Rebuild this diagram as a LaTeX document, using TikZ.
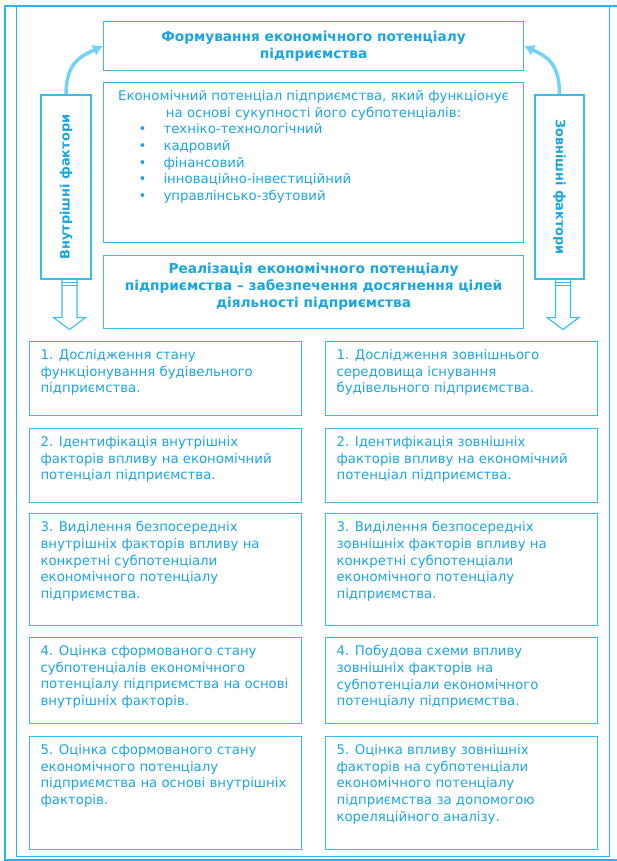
\documentclass[tikz,border=0pt]{standalone}
\usepackage{fontspec}
\setmainfont{DejaVu Sans}
\usetikzlibrary{arrows.meta}
\definecolor{txtblue}{HTML}{1BA5E0}
\definecolor{lineblue}{HTML}{36BCEE}
\definecolor{arcblue}{HTML}{74D2F6}
\definecolor{frameblue}{HTML}{2AB4EE}
\tikzset{
    box/.style = {draw = lineblue, line width = 1.1pt, text = txtblue, inner sep = 0pt,
        font = \fontsize{13.3pt}{16.6pt}\selectfont},
    boldbox/.style = {box, font = \fontsize{13.7pt}{16.8pt}\selectfont\bfseries},
    cell/.style = {box, anchor = north west, inner xsep = 11pt, inner ysep = 8pt},
    arc/.style = {draw = arcblue, line width = 3.5pt, -{Latex[length = 10pt, width = 12pt]}},
    hollow/.style = {draw = lineblue, line width = 1.1pt, fill = white}
}
\newcommand{\celltext}[2]{\parbox[t][#1][t]{250pt}{\raggedright #2}}
\newcommand{\itm}[1]{\hspace*{31pt}\makebox[25pt][l]{•}#1}
\begin{document}
\begin{tikzpicture}[x = 1pt, y = -1pt]
    \useasboundingbox (0,0) rectangle (617,861);
    \begin{scope}[draw = frameblue]
        \draw[line width = 2pt] (617,6) -- (5,6) -- (5,859.5) -- (617,859.5);
        \draw[line width = 0.8pt] (16,6) -- (16,856.5) -- (609,856.5) -- (609,6);
    \end{scope}
    \node[boldbox, anchor = north west, minimum width = 420pt, minimum height = 49pt, align = center] (form) at (103,21)
        {Формування економічного потенціалу\\підприємства};
    \node[box, anchor = north west, inner xsep = 4pt, inner ysep = 8pt] (desc) at (103,82)
        {\parbox[t][144pt][t]{412pt}{\centering Економічний потенціал підприємства, який функціонує\\
        на основі сукупності його субпотенціалів:\par\raggedright
        \itm{техніко-технологічний}\\
        \itm{кадровий}\\
        \itm{фінансовий}\\
        \itm{інноваційно-інвестиційний}\\
        \itm{управлінсько-збутовий}}};
    \node[boldbox, anchor = north west, inner xsep = 4pt, inner ysep = 8pt] (real) at (103,255)
        {\parbox[t][57pt][t]{412pt}{\centering Реалізація економічного потенціалу\\
        підприємства – забезпечення досягнення цілей\\діяльності підприємства}};
    \node[box, minimum width = 50pt, minimum height = 184pt,
        font = \fontsize{12.9pt}{16.6pt}\selectfont\bfseries] (intf) at (66,187)
        {\rotatebox{90}{Внутрішні фактори}};
    \node[box, minimum width = 49pt, minimum height = 184pt,
        font = \fontsize{12.9pt}{16.6pt}\selectfont\bfseries] (extf) at (559.5,187)
        {\rotatebox{-90}{Зовнішні фактори}};
    \draw[arc] (intf.north) .. controls +(0,-32) and +(-22,10) .. (form.west);
    \draw[arc] (extf.north) .. controls +(0,-32) and +(22,10) .. (form.east);
    \begin{scope}[style = hollow]
        \draw ([xshift = -4pt]intf.south) -- ++(0,38) -- ++(-8.5,0) -- ++(16,12) -- ++(16,-12)
            -- ++(-8.5,0) -- ++(0,-38);
        \draw ([xshift = -4pt, yshift = -3pt]intf.south) -- ++(15,0);
        \draw ([xshift = -4pt, yshift = -6pt]intf.south) -- ++(15,0);
        \draw ([xshift = -4pt]extf.south) -- ++(0,38) -- ++(-8.5,0) -- ++(16,12) -- ++(16,-12)
            -- ++(-8.5,0) -- ++(0,-38);
        \draw ([xshift = -4pt, yshift = -3pt]extf.south) -- ++(15,0);
        \draw ([xshift = -4pt, yshift = -6pt]extf.south) -- ++(15,0);
    \end{scope}
    \node[cell] (in1) at (29,341) {\celltext{58pt}{1. Дослідження стану\\функціонування будівельного\\підприємства.}};
    \node[cell] (in2) at (29,428) {\celltext{58pt}{2. Ідентифікація внутрішніх\\факторів впливу на економічний\\потенціал підприємства.}};
    \node[cell] (in3) at (29,513) {\celltext{96pt}{3. Виділення безпосередніх\\внутрішніх факторів впливу на\\конкретні субпотенціали\\економічного потенціалу\\підприємства.}};
    \node[cell] (in4) at (29,637) {\celltext{70pt}{4. Оцінка сформованого стану\\субпотенціалів економічного\\потенціалу підприємства на основі\\внутрішніх факторів.}};
    \node[cell] (in5) at (29,736) {\celltext{97pt}{5. Оцінка сформованого стану\\економічного потенціалу\\підприємства на основі внутрішніх\\факторів.}};
    \node[cell] (ex1) at (325,341) {\celltext{58pt}{1. Дослідження зовнішнього\\середовища існування\\будівельного підприємства.}};
    \node[cell] (ex2) at (325,428) {\celltext{58pt}{2. Ідентифікація зовнішніх\\факторів впливу на економічний\\потенціал підприємства.}};
    \node[cell] (ex3) at (325,513) {\celltext{96pt}{3. Виділення безпосередніх\\зовнішніх факторів впливу на\\конкретні субпотенціали\\економічного потенціалу\\підприємства.}};
    \node[cell] (ex4) at (325,637) {\celltext{70pt}{4. Побудова схеми впливу\\зовнішніх факторів на\\субпотенціали економічного\\потенціалу підприємства.}};
    \node[cell] (ex5) at (325,736) {\celltext{97pt}{5. Оцінка впливу зовнішніх\\факторів на субпотенціали\\економічного потенціалу\\підприємства за допомогою\\кореляційного аналізу.}};
\end{tikzpicture}
\end{document}
